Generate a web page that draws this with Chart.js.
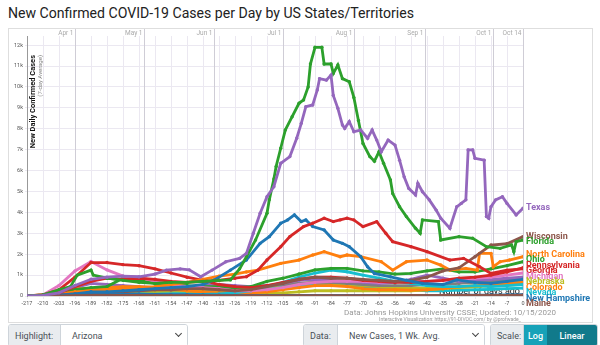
<!DOCTYPE html>
<html lang="en">
<head>
<meta charset="UTF-8">
<title>New Confirmed COVID-19 Cases per Day by US States/Territories</title>
<script src="https://cdn.jsdelivr.net/npm/chart.js"></script>
<style>
  body { margin: 0; width: 600px; height: 345px; overflow: hidden; background: #fff; position: relative;
         font-family: Roboto, "Liberation Sans", sans-serif; }
  h1 { position: absolute; left: 8px; top: 5px; margin: 0; font-size: 14.1px; line-height: 17px; font-weight: 400; color: #222; white-space: nowrap; }
  .card { position: absolute; left: 8px; top: 28px; width: 583px; height: 293px; border: 1px solid #dedede; }
  #chart { position: absolute; left: 0; top: 0; }
  .credit { position: absolute; left: 300px; width: 300px; text-align: center; color: #999; white-space: nowrap; }
  .grp { position: absolute; top: 324px; height: 23px; border: 1px solid #ced4da; border-radius: 3px; display: flex;
         overflow: hidden; font-size: 9px; color: #495057; box-sizing: border-box; }
  .lab { background: #e9ecef; border-right: 1px solid #ced4da; display: flex; align-items: center; padding-left: 6px; box-sizing: border-box; }
  .sel { flex: 1; background: #fff; display: flex; align-items: center; padding-left: 11px; position: relative; }
  .chev { position: absolute; right: 6px; top: 6px; width: 4px; height: 4px; border-right: 1.3px solid #444; border-bottom: 1.3px solid #444; transform: rotate(45deg); }
  .btn { display: flex; align-items: center; justify-content: center; color: #fff; font-weight: 500; }
</style>
</head>
<body>
<h1>New Confirmed COVID-19 Cases per Day by US States/Territories</h1>
<div class="card"></div>
<canvas id="chart" width="600" height="322"></canvas>
<div class="credit" style="top:308px;font-size:8px;">Data: Johns Hopkins University CSSE; Updated: 10/15/2020</div>
<div class="credit" style="top:316px;font-size:5px;">Interactive Visualization: https://91-DIVOC.com/ by @profwade_</div>

<div class="grp" style="left:8px;width:180px;">
  <span class="lab" style="width:52px;">Highlight:</span>
  <span class="sel">Arizona<i class="chev"></i></span>
</div>
<div class="grp" style="left:303px;width:182px;">
  <span class="lab" style="width:34px;">Data:</span>
  <span class="sel">New Cases, 1 Wk. Avg.<i class="chev"></i></span>
</div>
<div class="grp" style="left:490px;width:108px;">
  <span class="lab" style="width:33px;">Scale:</span>
  <span class="btn" style="width:23px;background:#17a2b8;">Log</span>
  <span class="btn" style="flex:1;background:#117a8b;">Linear</span>
</div>

<script>
// days ago (0 = Oct 14, 2020)
const weeks = [-217, -210, -203, -196, -189, -182, -175, -168, -161, -154, -147, -140, -133, -126, -119, -112,
               -105, -98, -91, -84, -77, -70, -63, -56, -49, -42, -35, -28, -21, -14, -7, 0];

// top axis dates
const monthLabels = ['Apr 1', 'May 1', 'Jun 1', 'Jul 1', 'Aug 1', 'Sep 1', 'Oct 1', 'Oct 14'];
const monthDays = [-196, -166, -135, -105, -74, -43, -13, 0];

// y ticks (cases)
const yTicks = [0, 1000, 2000, 3000, 4000, 5000, 6000, 7000, 8000, 9000, 10000, 11000, 12000];

const texasDays = [-217, -210, -203, -196, -189, -182, -175, -168, -161, -156, -150, -146, -141, -136, -130, -124, -121, -118, -115, -112,
                   -109, -106, -102, -99, -97, -95, -92, -90, -89, -86, -84, -83, -81, -79, -78, -76, -74, -71, -68, -66,
                   -64, -62, -59, -56, -54, -52, -50, -47, -46, -44, -41, -38, -36, -32, -29, -27, -25, -24, -22, -21,
                   -17, -16, -15, -14, -12, -9, -7, -3, 0];
const texasCases = [10, 30, 150, 500, 800, 900, 950, 920, 1050, 1240, 1300, 1250, 920, 1240, 1640, 1800, 2040, 3000, 3960, 4750,
                    5230, 6350, 6670, 7550, 8260, 9060, 9140, 9860, 10400, 10330, 10570, 9600, 8980, 8180, 8020, 8340, 7860, 7940, 7550, 7940,
                    7460, 6900, 7460, 7220, 6500, 5700, 5150, 4830, 5390, 4990, 4600, 4110, 3720, 3240, 4270, 4430, 4600, 6990, 6990, 6590,
                    6500, 3800, 3720, 4270, 4600, 4750, 4430, 3880, 4200];

const floridaDays = [-217, -210, -203, -198, -195, -189, -188, -182, -175, -168, -161, -154, -147, -140, -133, -128, -124, -121, -117, -112,
                     -111, -109, -108, -106, -104, -101, -98, -96, -94, -93, -91, -88, -87, -84, -83, -81, -79, -76, -74, -72,
                     -70, -67, -65, -63, -61, -58, -57, -54, -51, -47, -45, -44, -37, -36, -28, -22, -16, -10, -5, -4, -3, 0];
const floridaCases = [10, 50, 300, 450, 1000, 1240, 1000, 850, 750, 650, 600, 650, 650, 700, 750, 770, 1300, 1880, 2680, 3960,
                      4600, 5600, 6200, 7070, 7940, 8580, 9220, 9380, 10000, 11100, 11900, 11900, 11100, 11100, 10650, 11050, 10400, 10250, 9500, 8400,
                      7300, 6670, 6450, 6900, 6350, 5550, 4900, 4270, 3800, 3240, 3000, 3640, 3560, 2680, 2840, 2760, 2360, 2280, 2440, 2120, 2600, 2680];

const georgiaDays = [-217, -210, -203, -196, -189, -182, -175, -168, -161, -154, -147, -140, -133, -126, -121, -116, -112, -106, -102, -96,
                     -92, -87, -83, -80, -77, -74, -70, -64, -60, -57, -49, -42, -32, -26, -19, -14, -7, 0];
const georgiaCases = [5, 40, 150, 450, 700, 850, 800, 850, 800, 700, 650, 700, 750, 850, 920, 1240, 1720, 2360, 2840, 3320,
                      3480, 3720, 3560, 3640, 3720, 3640, 3320, 3560, 3000, 2600, 2360, 2120, 1720, 1800, 1400, 1080, 1240, 1300];

const ncDays = [-217, -210, -203, -196, -189, -182, -175, -168, -161, -154, -147, -140, -133, -126, -121, -116, -106, -98, -92, -87,
                -80, -77, -71, -62, -57, -51, -42, -36, -32, -25, -20, -19, -14, -13, -10, -6, 0];
const ncCases = [0, 20, 100, 200, 250, 300, 350, 400, 450, 550, 650, 800, 950, 1050, 1150, 1240, 1560, 1720, 1960, 2120,
                 1880, 1960, 1880, 1640, 1240, 1640, 1720, 1480, 1240, 1320, 1240, 2040, 2040, 1400, 1640, 1720, 1880];

const arizonaDays = [-217, -210, -203, -196, -189, -182, -175, -168, -161, -154, -147, -140, -135, -128, -121, -115, -111, -106, -103, -100,
                     -97, -95, -92, -87, -83, -79, -76, -71, -68, -65, -58, -51, -44, -35, -29, -21, -14, -7, 0];
const arizonaCases = [0, 10, 40, 100, 200, 200, 250, 300, 350, 400, 450, 550, 770, 1240, 1720, 2520, 2840, 3480, 3640, 3880,
                      3560, 3640, 3320, 3160, 2680, 2520, 2360, 1880, 1400, 1080, 920, 750, 600, 550, 770, 650, 600, 700, 800];

// weekly values (on `weeks`)
const pennsylvania = [5, 50, 300, 900, 1600, 1600, 1500, 1450, 1300, 1100, 900, 750, 550, 450, 400, 500,
                      650, 800, 900, 900, 850, 750, 700, 650, 650, 700, 750, 850, 900, 1000, 1150, 1350];
const michigan = [0, 50, 500, 1200, 1650, 1250, 950, 900, 700, 550, 450, 400, 350, 250, 250, 300,
                  400, 550, 650, 700, 700, 700, 650, 700, 700, 700, 750, 750, 850, 900, 1000, 1100];
const ohio = [0, 20, 100, 300, 400, 450, 850, 750, 600, 550, 500, 450, 450, 400, 450, 700,
              850, 1050, 1250, 1320, 1320, 1200, 1150, 1050, 1080, 1200, 1300, 1150, 1150, 1300, 1450, 1640];
const wisconsin = [0, 10, 50, 100, 100, 150, 200, 250, 300, 300, 350, 350, 300, 250, 300, 450,
                   600, 800, 900, 850, 850, 800, 750, 700, 750, 900, 1200, 1350, 1880, 2440, 2500, 2840];
const nebraska = [0, 0, 10, 20, 30, 60, 100, 250, 350, 350, 250, 200, 150, 150, 150, 150,
                  150, 200, 250, 250, 250, 250, 250, 250, 250, 300, 350, 400, 450, 550, 650, 700];
const colorado = [10, 60, 250, 350, 350, 400, 450, 450, 400, 350, 250, 200, 150, 150, 150, 200,
                  300, 400, 500, 500, 450, 350, 300, 300, 280, 300, 350, 450, 500, 550, 600, 650];
const nevada = [0, 20, 80, 120, 130, 120, 100, 100, 80, 60, 60, 80, 100, 150, 250, 450,
                650, 900, 1100, 1240, 1160, 1000, 850, 700, 600, 500, 450, 450, 500, 450, 500, 550];
const newHampshire = [0, 5, 20, 40, 60, 70, 80, 90, 80, 70, 60, 50, 40, 30, 25, 25,
                      25, 30, 30, 30, 25, 25, 25, 25, 25, 25, 30, 35, 40, 45, 55, 60];
const maine = [0, 5, 10, 20, 30, 30, 30, 25, 20, 20, 20, 20, 20, 20, 15, 15,
               20, 20, 20, 20, 20, 20, 20, 20, 25, 30, 30, 30, 30, 30, 30, 35];
// unlabelled background states
const otherGray = [0, 10, 50, 150, 250, 300, 350, 350, 350, 300, 300, 300, 350, 400, 450, 500,
                   550, 600, 650, 650, 600, 550, 500, 500, 500, 550, 550, 600, 650, 700, 750, 800];
const otherPurple = [0, 20, 150, 400, 600, 550, 500, 450, 400, 400, 450, 500, 550, 500, 450, 500,
                     600, 750, 800, 750, 700, 650, 600, 650, 800, 1000, 850, 700, 750, 800, 850, 900];
const otherOlive = [0, 5, 30, 80, 120, 150, 180, 200, 220, 250, 250, 250, 250, 300, 350, 450,
                    550, 600, 650, 600, 550, 500, 450, 400, 380, 380, 400, 420, 450, 480, 520, 560];
const otherCyan = [0, 30, 150, 250, 300, 250, 250, 200, 200, 180, 180, 200, 250, 300, 350, 400,
                   450, 500, 550, 550, 500, 450, 400, 350, 300, 250, 250, 280, 300, 320, 350, 380];

const series = [
  { name: 'Texas', color: '#9467bd', days: texasDays, cases: texasCases, tag: true },
  { name: 'Florida', color: '#2ca02c', days: floridaDays, cases: floridaCases, tag: true },
  { name: 'Maine', color: '#8c564b', days: weeks, cases: maine, tag: true },
  { name: 'New Hampshire', color: '#1f77b4', days: weeks, cases: newHampshire, tag: true },
  { name: 'Georgia', color: '#d62728', days: georgiaDays, cases: georgiaCases, tag: true },
  { name: 'Arizona', color: '#1f77b4', days: arizonaDays, cases: arizonaCases, tag: false },
  { name: 'Wisconsin', color: '#8c564b', days: weeks, cases: wisconsin, tag: true },
  { name: 'North Carolina', color: '#ff7f0e', days: ncDays, cases: ncCases, tag: true },
  { name: 'Pennsylvania', color: '#d62728', days: weeks, cases: pennsylvania, tag: true },
  { name: 'Michigan', color: '#e377c2', days: weeks, cases: michigan, tag: true },
  { name: 'Ohio', color: '#2ca02c', days: weeks, cases: ohio, tag: true },
  { name: 'Nevada', color: '#17becf', days: weeks, cases: nevada, tag: true },
  { name: 'Colorado', color: '#ff7f0e', days: weeks, cases: colorado, tag: true },
  { name: 'Nebraska', color: '#bcbd22', days: weeks, cases: nebraska, tag: true },
  { name: '', color: '#9467bd', days: weeks, cases: otherPurple, tag: false },
  { name: '', color: '#7f7f7f', days: weeks, cases: otherGray, tag: false },
  { name: '', color: '#bcbd22', days: weeks, cases: otherOlive, tag: false },
  { name: '', color: '#17becf', days: weeks, cases: otherCyan, tag: false }
];

const overlay = {
  id: 'overlay',
  beforeDatasetsDraw(chart) {
    const { ctx, chartArea: a, scales: { x } } = chart;
    ctx.save();
    // month lines + dates on top
    ctx.lineWidth = 1;
    monthDays.forEach((d, i) => {
      const px = Math.round(x.getPixelForValue(d)) + 0.5;
      ctx.strokeStyle = '#cfcdd6';
      ctx.beginPath();
      ctx.moveTo(px, a.top - 7);
      ctx.lineTo(px, a.bottom);
      ctx.stroke();
      ctx.fillStyle = '#aaa';
      ctx.font = '6.5px Roboto';
      ctx.textAlign = 'right';
      ctx.textBaseline = 'alphabetic';
      ctx.fillText(monthLabels[i], px - 2, a.top - 1);
    });
    // y title
    ctx.translate(a.left + 6.5, a.top + 19);
    ctx.rotate(-Math.PI / 2);
    ctx.textAlign = 'right';
    ctx.textBaseline = 'middle';
    ctx.fillStyle = '#111';
    ctx.font = 'bold 7.5px Roboto';
    ctx.fillText('New Daily Confirmed Cases', 0, 0);
    ctx.fillStyle = '#888';
    ctx.font = '6px Roboto';
    ctx.fillText('(7-day Average)', 0, 6.5);
    ctx.restore();
    // x title
    ctx.save();
    ctx.fillStyle = '#111';
    ctx.font = '9px Roboto';
    ctx.textAlign = 'right';
    ctx.textBaseline = 'alphabetic';
    ctx.fillText('Number of days ago', a.right - 3, a.bottom - 2);
    ctx.restore();
  },
  afterDatasetsDraw(chart) {
    const { ctx, scales: { x, y } } = chart;
    const items = series.filter(s => s.tag).map(s => ({
      name: s.name, color: s.color, y: y.getPixelForValue(s.cases[s.cases.length - 1])
    }));
    items.sort((p, q) => p.y - q.y);
    const gap = 5.5;
    const maxY = y.getPixelForValue(0) + 8;
    for (let i = 1; i < items.length; i++) items[i].y = Math.max(items[i].y, items[i - 1].y + gap);
    for (let i = items.length - 1; i >= 0; i--) {
      const lim = i === items.length - 1 ? maxY : items[i + 1].y - gap;
      items[i].y = Math.min(items[i].y, lim);
    }
    const lx = x.getPixelForValue(0) + 3;
    ctx.save();
    ctx.font = 'bold 9px Roboto';
    ctx.textAlign = 'left';
    ctx.textBaseline = 'middle';
    items.forEach(it => {
      ctx.fillStyle = it.color;
      ctx.fillText(it.name, lx, it.y);
    });
    ctx.restore();
  }
};

new Chart(document.getElementById('chart'), {
  type: 'line',
  data: {
    datasets: series.map(s => ({
      label: s.name,
      data: s.days.map((d, i) => ({ x: d, y: s.cases[i] })),
      borderColor: s.color,
      backgroundColor: s.color,
      borderWidth: 2.8,
      pointRadius: 1.7,
      pointBorderWidth: 0,
      tension: 0
    }))
  },
  options: {
    responsive: false,
    devicePixelRatio: 1,
    animation: false,
    layout: { padding: { left: 7, right: 77, top: 36, bottom: 12 } },
    plugins: { legend: { display: false }, tooltip: { enabled: false } },
    scales: {
      x: {
        type: 'linear', min: -217, max: 0,
        afterFit(scale) { scale.height = 14; },
        grid: { color: '#ebe8f1', tickLength: 3 },
        border: { color: '#ddd' },
        ticks: { stepSize: 7, autoSkip: false, maxRotation: 0, padding: 1, color: '#555', font: { size: 5.5, family: 'Roboto' } }
      },
      y: {
        min: 0, max: 12440,
        afterFit(scale) { scale.width = 20; },
        afterBuildTicks(scale) { scale.ticks = yTicks.map(v => ({ value: v })); },
        grid: { color: '#ebe8f1', tickLength: 2 },
        border: { color: '#999' },
        ticks: {
          padding: 2, color: '#555', font: { size: 5.5, family: 'Roboto' },
          callback: v => v === 0 ? '0' : (v / 1000) + 'k'
        }
      }
    }
  },
  plugins: [overlay]
});
</script>
</body>
</html>
